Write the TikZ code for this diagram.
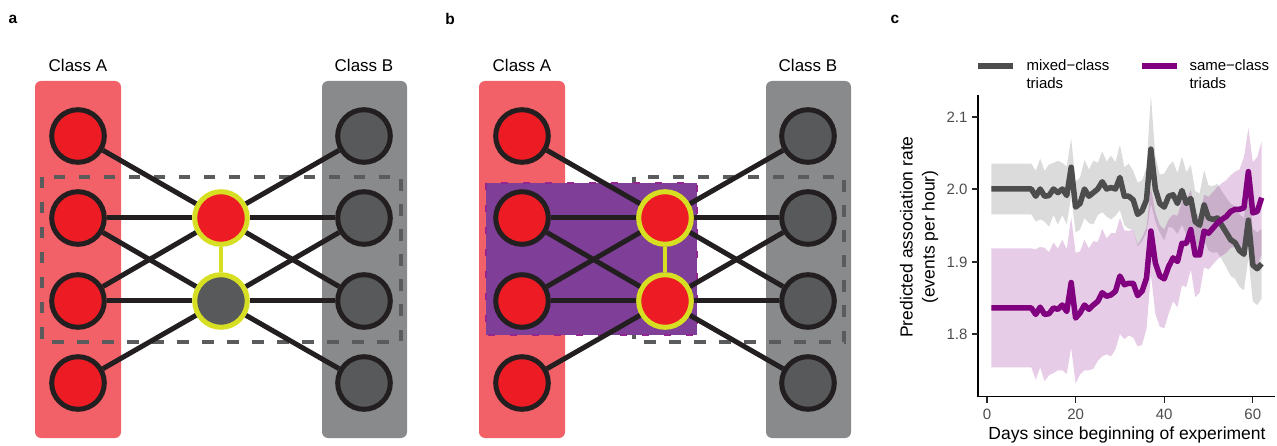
\documentclass[tikz,border=0pt]{standalone}
\usepackage{fontspec}
\setmainfont{Liberation Sans}
\definecolor{redcol}{HTML}{F26167}
\definecolor{rednode}{HTML}{ED1C24}
\definecolor{graycol}{HTML}{898A8C}
\definecolor{graynode}{HTML}{58595B}
\definecolor{ink}{HTML}{231F20}
\definecolor{ylw}{HTML}{D7DF23}
\definecolor{purp}{HTML}{7F3F98}
\definecolor{purpedge}{HTML}{92278F}
\definecolor{dashgray}{HTML}{5A5B5D}
\definecolor{linegray}{HTML}{4D4D4D}
\definecolor{lineprp}{HTML}{800080}
\definecolor{ticklabc}{HTML}{4D4D4D}
\def\G{{2.000,2.000,2.000,2.000,2.000,2.000,2.000,2.000,2.000,2.000,
1.990,2.000,1.990,1.991,2.000,1.995,2.000,1.991,2.030,1.975,
1.980,2.000,1.990,1.995,2.000,2.010,2.000,2.002,2.000,2.016,
1.990,1.990,1.985,1.965,1.970,1.985,2.055,2.000,1.980,1.975,
1.990,1.992,1.980,1.998,1.980,1.987,1.955,1.950,1.978,1.960,
1.958,1.960,1.950,1.940,1.930,1.926,1.915,1.910,1.957,1.895,
1.890,1.897}}
\def\GW{{0.035,0.035,0.035,0.035,0.035,0.035,0.035,0.035,0.035,0.035,
0.035,0.042,0.035,0.043,0.036,0.044,0.036,0.040,0.040,0.035,
0.036,0.040,0.037,0.044,0.036,0.042,0.038,0.044,0.037,0.045,
0.040,0.045,0.040,0.044,0.042,0.045,0.075,0.045,0.040,0.046,
0.042,0.046,0.042,0.047,0.043,0.046,0.042,0.044,0.048,0.045,
0.046,0.047,0.047,0.048,0.050,0.050,0.050,0.050,0.052,0.050,
0.050,0.048}}
\def\P{{1.836,1.836,1.836,1.836,1.836,1.836,1.836,1.836,1.836,1.836,
1.827,1.837,1.827,1.828,1.836,1.834,1.840,1.831,1.871,1.822,
1.829,1.840,1.834,1.840,1.845,1.857,1.852,1.854,1.859,1.880,
1.868,1.870,1.870,1.853,1.859,1.877,1.942,1.898,1.880,1.876,
1.893,1.905,1.900,1.925,1.925,1.944,1.909,1.909,1.942,1.939,
1.946,1.953,1.958,1.962,1.969,1.972,1.972,1.974,2.024,1.967,
1.969,1.988}}
\def\PW{{0.082,0.082,0.082,0.082,0.082,0.082,0.082,0.082,0.082,0.082,
0.090,0.083,0.092,0.085,0.090,0.084,0.090,0.086,0.090,0.090,
0.085,0.090,0.084,0.088,0.082,0.088,0.080,0.085,0.080,0.080,
0.075,0.072,0.075,0.070,0.074,0.070,0.060,0.070,0.070,0.068,
0.065,0.060,0.063,0.058,0.060,0.055,0.058,0.052,0.050,0.050,
0.050,0.050,0.050,0.050,0.050,0.052,0.055,0.070,0.060,0.070,
0.075,0.078}}
\tikzset{
  colbox/.style={rounded corners=6pt},
  anode/.style={circle, draw=ink, line width=5pt, fill=rednode, minimum size=52.6pt, inner sep=0pt},
  bnode/.style={anode, fill=graynode},
  hubr/.style={anode, draw=ylw, line width=5pt, minimum size=52.6pt},
  hubg/.style={hubr, fill=graynode},
  edgeline/.style={draw=ink, line width=5pt},
  hublink/.style={draw=ylw, line width=4.5pt},
  dbox/.style={draw=dashgray, line width=3.5pt, dash pattern=on 11.5pt off 13.5pt},
  pbox/.style={fill=purp, draw=purpedge, line width=2.5pt, dash pattern=on 7pt off 15pt},
  classlab/.style={font=\fontsize{17}{20}\selectfont},
  panlab/.style={font=\fontsize{15.5}{18}\selectfont\bfseries},
  ticklab/.style={font=\fontsize{15}{18}\selectfont, text=ticklabc},
  axtitle/.style={font=\fontsize{17.5}{22}\selectfont},
  legtext/.style={font=\fontsize{15}{18.5}\selectfont, align=left, anchor=west},
  tickmark/.style={draw=black!85, line width=1.2pt},
  dataline/.style={line width=5.5pt, line join=round},
}
\begin{document}
\begin{tikzpicture}[x=1pt, y=-1pt]
\useasboundingbox (0,0) rectangle (1277,446);
% ---------------- panel a ----------------
\node[panlab] (la) at (13,19) {a};
\fill[redcol, colbox] (35,81) rectangle (121,438);
\fill[graycol, colbox] (322,81) rectangle (407,438);
\draw[dbox] (42,177) rectangle (401,342);
\node[classlab] (aCA) at (78,65) {Class A};
\node[classlab] (aCB) at (364,65) {Class B};
\node[anode] (aL1) at (78,136) {};
\node[anode] (aL2) at (78,218) {};
\node[anode] (aL3) at (78,301) {};
\node[anode] (aL4) at (78,383) {};
\node[bnode] (aR1) at (364,136) {};
\node[bnode] (aR2) at (364,218) {};
\node[bnode] (aR3) at (364,301) {};
\node[bnode] (aR4) at (364,383) {};
\node[hubr] (aC1) at (221,218) {};
\node[hubg] (aC2) at (221,301) {};
\draw[edgeline] (aL1) -- (aC1);
\draw[edgeline] (aL2) -- (aC1);
\draw[edgeline] (aL2) -- (aC2);
\draw[edgeline] (aL3) -- (aC1);
\draw[edgeline] (aL3) -- (aC2);
\draw[edgeline] (aL4) -- (aC2);
\draw[edgeline] (aR1) -- (aC1);
\draw[edgeline] (aR2) -- (aC1);
\draw[edgeline] (aR2) -- (aC2);
\draw[edgeline] (aR3) -- (aC1);
\draw[edgeline] (aR3) -- (aC2);
\draw[edgeline] (aR4) -- (aC2);
\draw[hublink] (aC1) -- (aC2);
% ---------------- panel b ----------------
\node[panlab] (lb) at (450,19) {b};
\fill[redcol, colbox] (479,81) rectangle (565,438);
\fill[graycol, colbox] (766,81) rectangle (851,438);
\draw[dbox] (634,177) rectangle (844,342);
\filldraw[pbox] (486,183) rectangle (697,335);
\node[classlab] (bCA) at (522,65) {Class A};
\node[classlab] (bCB) at (808,65) {Class B};
\node[anode] (bL1) at (522,136) {};
\node[anode] (bL2) at (522,218) {};
\node[anode] (bL3) at (522,301) {};
\node[anode] (bL4) at (522,383) {};
\node[bnode] (bR1) at (808,136) {};
\node[bnode] (bR2) at (808,218) {};
\node[bnode] (bR3) at (808,301) {};
\node[bnode] (bR4) at (808,383) {};
\node[hubr] (bC1) at (665,218) {};
\node[hubr] (bC2) at (665,301) {};
\draw[edgeline] (bL1) -- (bC1);
\draw[edgeline] (bL2) -- (bC1);
\draw[edgeline] (bL2) -- (bC2);
\draw[edgeline] (bL3) -- (bC1);
\draw[edgeline] (bL3) -- (bC2);
\draw[edgeline] (bL4) -- (bC2);
\draw[edgeline] (bR1) -- (bC1);
\draw[edgeline] (bR2) -- (bC1);
\draw[edgeline] (bR2) -- (bC2);
\draw[edgeline] (bR3) -- (bC1);
\draw[edgeline] (bR3) -- (bC2);
\draw[edgeline] (bR4) -- (bC2);
\draw[hublink] (bC1) -- (bC2);
% ---------------- panel c ----------------
\node[panlab] (lc) at (895,19) {c};
% legend
\coordinate (lg1a) at (978,66);
\coordinate (lg1b) at (1013,66);
\draw[linegray, line width=5.5pt] (lg1a) -- (lg1b);
\node[legtext] (lgt1) at (1023,74) {mixed−class\\triads};
\coordinate (lg2a) at (1142,66);
\coordinate (lg2b) at (1177,66);
\draw[lineprp, line width=5.5pt] (lg2a) -- (lg2b);
\node[legtext] (lgt2) at (1186,74) {same−class\\triads};
% data
\begin{scope}[shift={(987,1639)}, x=4.43pt, y=725pt]
\fill[linegray, fill opacity=0.2] (1,{\G[0]+\GW[0]})
  \foreach \i in {1,...,61}{ -- ({\i+1},{\G[\i]+\GW[\i]}) }
  \foreach \i in {61,...,0}{ -- ({\i+1},{\G[\i]-\GW[\i]}) } -- cycle;
\fill[lineprp, fill opacity=0.2] (1,{\P[0]+\PW[0]})
  \foreach \i in {1,...,61}{ -- ({\i+1},{\P[\i]+\PW[\i]}) }
  \foreach \i in {61,...,0}{ -- ({\i+1},{\P[\i]-\PW[\i]}) } -- cycle;
\draw[linegray, dataline] (1,{\G[0]})
  \foreach \i in {1,...,61}{ -- ({\i+1},{\G[\i]}) };
\draw[lineprp, dataline] (1,{\P[0]})
  \foreach \i in {1,...,61}{ -- ({\i+1},{\P[\i]}) };
\end{scope}
% axes
\coordinate (ytop) at (978,95);
\coordinate (orig) at (978,396.5);
\coordinate (xend) at (1275,396.5);
\draw[black, line width=1.6pt] (ytop) -- (orig) -- (xend);
\foreach \v/\y/\n in {2.1/117/1, 2.0/189/2, 1.9/262/3, 1.8/334/4}{
  \coordinate (yt\n) at (978,\y);
  \draw[tickmark] (yt\n) -- ++(-6,0);
  \node[ticklab, anchor=east] (ytl\n) at (971,\y) {\v};
}
\foreach \d/\n in {0/1, 20/2, 40/3, 60/4}{
  \coordinate (xt\n) at ({987+4.43*\d},396.5);
  \draw[tickmark] (xt\n) -- ++(0,6);
  \node[ticklab] (xtl\n) at ({987+4.43*\d},414) {\d};
}
\node[axtitle] (xtitle) at (1127,435) {Days since beginning of experiment};
\node[axtitle, rotate=90, align=center] (ytitle) at (919,237) {Predicted association rate\\(events per hour)};
\end{tikzpicture}
\end{document}
